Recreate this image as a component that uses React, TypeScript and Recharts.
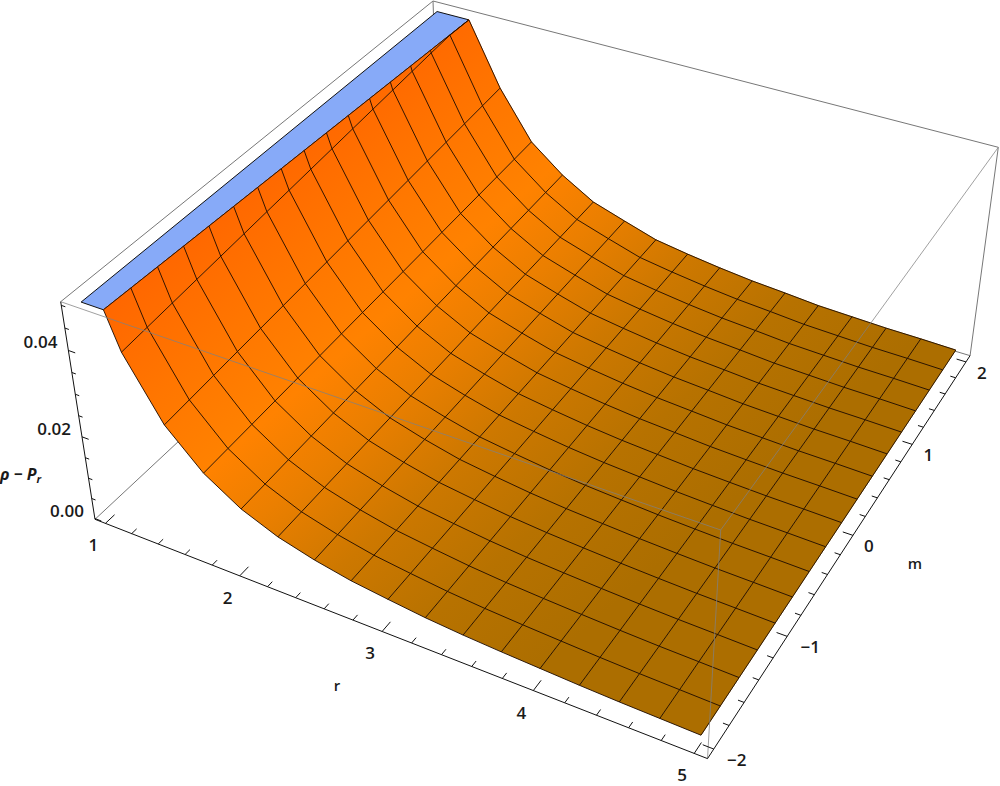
import React from 'react';
import { ScatterChart, Scatter, XAxis, YAxis } from 'recharts';

// ---- data ----
const rMesh = [1.25, 1.5, 1.75, 2, 2.25, 2.5, 2.75, 3, 3.25, 3.5, 3.75, 4, 4.25, 4.5, 4.75, 5];
const zFront = [0.0416, 0.0279, 0.0196, 0.0142, 0.0107, 0.0084, 0.0067, 0.0056, 0.0046, 0.0039, 0.0034, 0.003, 0.0026, 0.0023, 0.0021, 0.0019];
const zBack = [0.0505, 0.0351, 0.0236, 0.0173, 0.0126, 0.01, 0.0075, 0.0062, 0.0051, 0.0042, 0.0036, 0.0029, 0.0026, 0.0023, 0.0022, 0.002];
const mMesh = [-2, -1.75, -1.5, -1.25, -1, -0.75, -0.5, -0.25, 0, 0.25, 0.5, 0.75, 1, 1.25, 1.5, 1.75, 2];
const rClipFront = 1.16;
const rClipBack = 1.258;
const zClip = 0.05;
const rStart = 1;
const rTicks = [1, 1.2, 1.4, 1.6, 1.8, 2, 2.2, 2.4, 2.6, 2.8, 3, 3.2, 3.4, 3.6, 3.8, 4, 4.2, 4.4, 4.6, 4.8, 5];
const mTicks = [-2, -1.8, -1.6, -1.4, -1.2, -1, -0.8, -0.6, -0.4, -0.2, 0, 0.2, 0.4, 0.6, 0.8, 1, 1.2, 1.4, 1.6, 1.8, 2];
const zTicks = [0, 0.005, 0.01, 0.015, 0.02, 0.025, 0.03, 0.035, 0.04, 0.045, 0.05];
const rMajor = [1, 2, 3, 4, 5];
const mMajor = [-2, -1, 0, 1, 2];
const zMajor = [0, 0.02, 0.04];

// ---- camera of the 3D box ----
const R0 = 0.92, R1 = 5.08, M0 = -2.08, M1 = 2.08, Z0 = -0.0002, Z1 = 0.0508;
const pE = [60.7, 301.7], pF = [720.7, 530], pG = [998.3, 147.3], pH = [433, 1], pA = [95, 519.3], pB = [706.7, 760.7];
const det = (a: number[], b: number[]) => a[0] * b[1] - a[1] * b[0];
const dx1 = [pF[0] - pG[0], pF[1] - pG[1]];
const dx2 = [pH[0] - pG[0], pH[1] - pG[1]];
const sv = [pE[0] - pF[0] + pG[0] - pH[0], pE[1] - pF[1] + pG[1] - pH[1]];
const dd = det(dx1, dx2);
const g = det(sv, dx2) / dd;
const h = det(dx1, sv) / dd;
const ax = pF[0] - pE[0] + g * pF[0], bx = pH[0] - pE[0] + h * pH[0], cx0 = pE[0];
const ay = pF[1] - pE[1] + g * pF[1], by = pH[1] - pE[1] + h * pH[1], cy0 = pE[1];
const dX = pA[0] - pB[0], dY = pA[1] - pB[1];
const rX = pB[0] * g - ax, rY = pB[1] * g - ay;
const kk = (dX * rX + dY * rY) / (dX * dX + dY * dY);
const tx = pA[0] * kk - cx0, ty = pA[1] * kk - cy0, tk = kk - 1;

function cam(u: number, v: number, w: number) {
  const t = 1 - w;
  const d = g * u + h * v + 1 + tk * t;
  return { x: (ax * u + bx * v + cx0 + tx * t) / d, y: (ay * u + by * v + cy0 + ty * t) / d };
}
const U = (r: number) => (r - R0) / (R1 - R0);
const V = (m: number) => (m - M0) / (M1 - M0);
const W = (z: number) => (z - Z0) / (Z1 - Z0);
const proj = (r: number, m: number, z: number) => cam(U(r), V(m), W(z));

// ---- surface nodes: each mesh row runs from the front list to the back list ----
const frac = (m: number) => (m + 2) / 4;
const rClipAt = (m: number) => rClipFront + (rClipBack - rClipFront) * frac(m);
const node = (i: number, m: number) => {
  const z = zFront[i] + (zBack[i] - zFront[i]) * frac(m);
  const r = rMesh[i];
  const rc = rClipAt(m);
  return r < rc || z > zClip ? proj(Math.max(r, rc), m, Math.min(z, zClip)) : proj(r, m, z);
};
const clipNode = (m: number) => proj(rClipAt(m), m, zClip);

const clipLine = mMesh.map(clipNode);
const rLines = rMesh.map((_, i) => mMesh.map((m) => node(i, m)));
const mLines = mMesh.map((m) => [clipNode(m), ...rMesh.map((_, i) => node(i, m))]);
const rows = [clipLine, ...rLines];
const strips = rows.slice(0, -1).map((row, i) => [...row, ...[...rows[i + 1]].reverse()]);
const capPoly = [proj(rStart, -2, zClip), clipNode(-2), clipNode(2), proj(rStart, 2, zClip), proj(rStart, -2, zClip)];

const box = (u: number, v: number, w: number) => cam(u, v, w);
const backEdges = [
  [box(0, 0, 0), box(0, 1, 0)],
  [box(0, 1, 0), box(1, 1, 0)],
  [box(0, 1, 0), box(0, 1, 1)],
];
const topEdges = [
  [box(0, 0, 1), box(0, 1, 1)],
  [box(0, 1, 1), box(1, 1, 1)],
  [box(1, 1, 1), box(1, 1, 0)],
];
const frontEdges = [
  [box(0, 0, 1), box(1, 0, 1)],
  [box(1, 0, 1), box(1, 1, 1)],
  [box(1, 0, 1), box(1, 0, 0)],
];
const axes = [
  [box(0, 0, 0), box(1, 0, 0)],
  [box(1, 0, 0), box(1, 1, 0)],
  [box(0, 0, 0), box(0, 0, 1)],
];
const rTickSegs = rTicks.map((r) => {
  const len = rMajor.includes(r) ? 0.022 : 0.012;
  return [cam(U(r), 0, 0), cam(U(r), len, 0)];
});
const mTickSegs = mTicks.map((m) => {
  const len = mMajor.includes(m) ? 0.016 : 0.009;
  return [cam(1, V(m), 0), cam(1 - len, V(m), 0)];
});
const zTickSegs = zTicks.map((z) => {
  const len = zMajor.includes(z) ? 0.012 : 0.007;
  return [cam(0, 0, W(z)), cam(len, 0, W(z))];
});

const rLabels = rMajor.map((r) => ({ ...cam(U(r), 0, 0), label: String(r) }));
const mLabelsNeg = mMajor.filter((m) => m < 0).map((m) => ({ ...cam(1, V(m), 0), label: String(m).replace('-', '\u2212') }));
const mLabelsPos = mMajor.filter((m) => m >= 0).map((m) => ({ ...cam(1, V(m), 0), label: String(m) }));
const zLabels = zMajor.map((z) => ({ ...cam(0, 0, W(z)), label: z.toFixed(2) }));

const FONT = '"Open Sans", "Liberation Sans", sans-serif';
const noDot = () => null;
const textShape = (dx: number, dy: number, anchor: string) => (p: any) => (
  <text x={p.cx + dx} y={p.cy + dy} textAnchor={anchor} fontFamily={FONT} fontSize={17} fontWeight={600} fill="#1a1a1a">
    {p.payload.label}
  </text>
);
const key = (name: string, i: number) => `${name}-${i}`;

const Segs = (segs: { x: number; y: number }[][], name: string, stroke: string, width: number, opacity = 1) =>
  segs.map((s, i) => (
    <Scatter
      key={key(name, i)}
      data={s}
      fill="none"
      shape={noDot}
      isAnimationActive={false}
      line={{ stroke, strokeWidth: width, strokeOpacity: opacity, fill: 'none' }}
    />
  ));

export default function App() {
  return (
    <div style={{ position: 'absolute', left: 0, top: 0, width: 1000, height: 786, background: '#fff' }}>
      <ScatterChart width={1000} height={786} margin={{ top: 0, right: 0, bottom: 0, left: 0 }}>
        <defs>
          <linearGradient id="surf" gradientUnits="userSpaceOnUse" x1={103} y1={310} x2={499} y2={760}>
            <stop offset="0" stopColor="rgb(255,103,0)" />
            <stop offset="0.167" stopColor="rgb(255,118,0)" />
            <stop offset="0.317" stopColor="rgb(255,130,0)" />
            <stop offset="0.433" stopColor="rgb(235,127,0)" />
            <stop offset="0.583" stopColor="rgb(205,120,0)" />
            <stop offset="0.75" stopColor="rgb(183,114,0)" />
            <stop offset="0.933" stopColor="rgb(172,110,0)" />
            <stop offset="1" stopColor="rgb(172,110,0)" />
          </linearGradient>
        </defs>
        <XAxis type="number" dataKey="x" domain={[0, 1000]} hide />
        <YAxis type="number" dataKey="y" domain={[0, 786]} reversed hide />
        {Segs(backEdges, 'back', '#777', 1)}
        {Segs(topEdges, 'top', '#777', 1)}
        <Scatter data={capPoly} fill="none" shape={noDot} isAnimationActive={false} line={{ fill: '#87aaf8', stroke: '#111', strokeWidth: 1 }} />
        {strips.map((s, i) => (
          <Scatter key={key('strip', i)} data={s} fill="none" shape={noDot} isAnimationActive={false} line={{ fill: 'url(#surf)', stroke: 'url(#surf)', strokeWidth: 0.8 }} />
        ))}
        {Segs(rLines, 'rline', '#1c0a00', 0.9)}
        {Segs(mLines, 'mline', '#1c0a00', 0.9)}
        {Segs([clipLine], 'clip', '#1c0a00', 0.9)}
        {Segs(frontEdges, 'front', '#808080', 1, 0.75)}
        {Segs(axes, 'axis', '#111', 1)}
        {Segs(rTickSegs, 'rt', '#111', 1)}
        {Segs(mTickSegs, 'mt', '#111', 1)}
        {Segs(zTickSegs, 'zt', '#111', 1)}
        <Scatter data={rLabels} fill="none" isAnimationActive={false} shape={textShape(-12, 28, 'middle')} />
        <Scatter data={mLabelsNeg} fill="none" isAnimationActive={false} shape={textShape(23, 17, 'middle')} />
        <Scatter data={mLabelsPos} fill="none" isAnimationActive={false} shape={textShape(16, 17, 'middle')} />
        <Scatter data={zLabels} fill="none" isAnimationActive={false} shape={textShape(-11, -2, 'end')} />
        <Scatter
          data={[cam(0.39, 0, 0)]}
          fill="none"
          isAnimationActive={false}
          shape={() => (
            <text x={337} y={691} textAnchor="middle" fontFamily={FONT} fontSize={15} fontWeight={600} fill="#1a1a1a">r</text>
          )}
        />
        <Scatter
          data={[cam(1, 0.5, 0)]}
          fill="none"
          isAnimationActive={false}
          shape={() => (
            <text x={915} y={569} textAnchor="middle" fontFamily={FONT} fontSize={15} fontWeight={600} fill="#1a1a1a">m</text>
          )}
        />
        <Scatter
          data={[cam(0, 0, 0.2)]}
          fill="none"
          isAnimationActive={false}
          shape={() => (
            <text x={0} y={480} fontFamily={FONT} fontSize={16} fontWeight={700} fontStyle="italic" fill="#1a1a1a">
              ρ − P<tspan fontSize={11} dy={3}>r</tspan>
            </text>
          )}
        />
      </ScatterChart>
    </div>
  );
}
